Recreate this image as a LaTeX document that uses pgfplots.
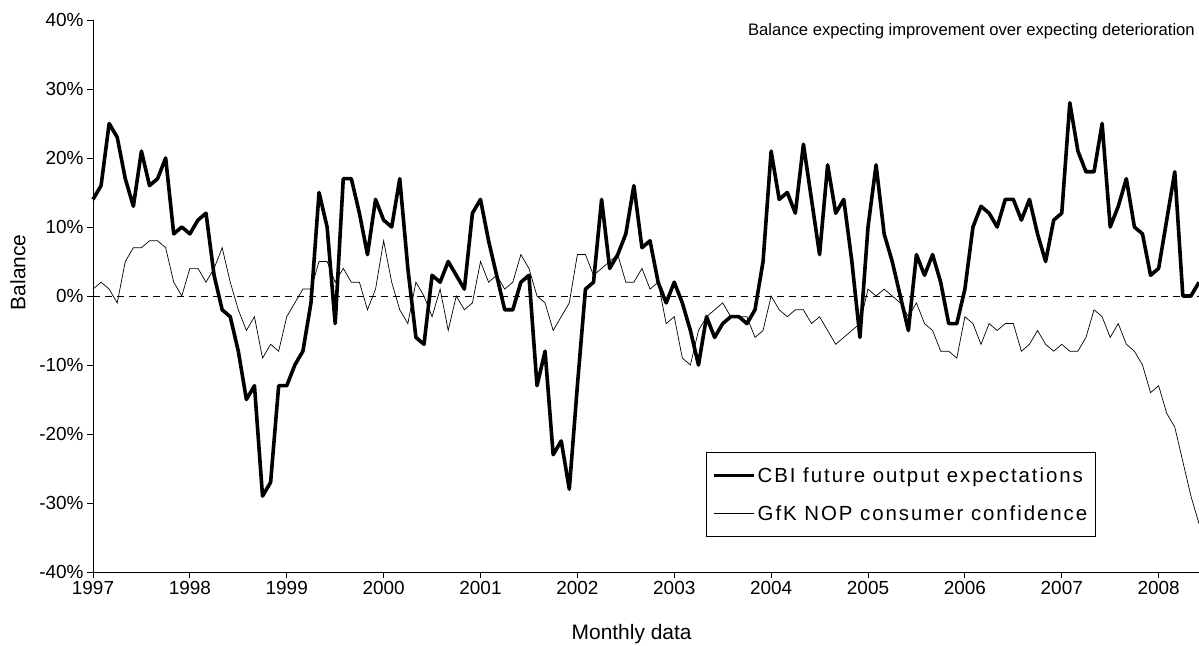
\documentclass[border=0pt]{standalone}
\usepackage{pgfplots}
\pgfplotsset{compat=1.18}
\usepackage{pgfplotstable}
\usepackage{fontspec}
\setmainfont{Liberation Sans}
\newfontfamily\legfont[LetterSpace=9.5]{Liberation Sans}
\pgfplotstableread{
m cbi gfk
0 14 1
1 16 2
2 25 1
3 23 -1
4 17 5
5 13 7
6 21 7
7 16 8
8 17 8
9 20 7
10 9 2
11 10 0
12 9 4
13 11 4
14 12 2
15 3 4
16 -2 7
17 -3 2
18 -8 -2
19 -15 -5
20 -13 -3
21 -29 -9
22 -27 -7
23 -13 -8
24 -13 -3
25 -10 -1
26 -8 1
27 -1 1
28 15 5
29 10 5
30 -4 2
31 17 4
32 17 2
33 12 2
34 6 -2
35 14 1
36 11 8
37 10 2
38 17 -2
39 4 -4
40 -6 2
41 -7 0
42 3 -3
43 2 1
44 5 -5
45 3 0
46 1 -2
47 12 -1
48 14 5
49 8 2
50 3 3
51 -2 1
52 -2 2
53 2 6
54 3 4
55 -13 0
56 -8 -1
57 -23 -5
58 -21 -3
59 -28 -1
60 -13 6
61 1 6
62 2 3
63 14 4
64 4 5
65 6 6
66 9 2
67 16 2
68 7 4
69 8 1
70 2 2
71 -1 -4
72 2 -3
73 -1 -9
74 -5 -10
75 -10 -5
76 -3 -3
77 -6 -2
78 -4 -1
79 -3 -3
80 -3 -3
81 -4 -3
82 -2 -6
83 5 -5
84 21 0
85 14 -2
86 15 -3
87 12 -2
88 22 -2
89 14 -4
90 6 -3
91 19 -5
92 12 -7
93 14 -6
94 5 -5
95 -6 -4
96 10 1
97 19 0
98 9 1
99 5 0
100 0 -1
101 -5 -3
102 6 -1
103 3 -4
104 6 -5
105 2 -8
106 -4 -8
107 -4 -9
108 1 -3
109 10 -4
110 13 -7
111 12 -4
112 10 -5
113 14 -4
114 14 -4
115 11 -8
116 14 -7
117 9 -5
118 5 -7
119 11 -8
120 12 -7
121 28 -8
122 21 -8
123 18 -6
124 18 -2
125 25 -3
126 10 -6
127 13 -4
128 17 -7
129 10 -8
130 9 -10
131 3 -14
132 4 -13
133 11 -17
134 18 -19
135 0 -24
136 0 -29
137 2 -33
}\datatable
\begin{document}
\begin{tikzpicture}
\path[use as bounding box] (0,0) rectangle (1199bp,646bp);
\begin{axis}[
  at={(93bp,74bp)}, anchor=south west,
  scale only axis, width=1106bp, height=552bp,
  xmin=0, xmax=137, ymin=-40, ymax=40,
  axis x line*=bottom, axis y line*=left,
  axis line style={line width=0.8bp},
  tick align=outside, major tick length=6bp,
  tick style={line width=0.8bp, black},
  xtick={0,12,...,132},
  xticklabels={1997,1998,1999,2000,2001,2002,2003,2004,2005,2006,2007,2008},
  ytick={-40,-30,...,40},
  yticklabels={-40\%,-30\%,-20\%,-10\%,0\%,10\%,20\%,30\%,40\%},
  ticklabel style={font=\fontsize{19}{22}\selectfont},
  xlabel={Monthly data}, ylabel={Balance},
  label style={font=\fontsize{21}{24}\selectfont},
  xlabel style={at={(axis description cs:0.487,0)}, anchor=center, yshift=-62bp},
  ylabel style={at={(axis description cs:-0.068,0.543)}, anchor=center},
  clip=false,
  legend style={at={(0.554,0.063)}, anchor=south west, draw=black, line width=0.8bp,
    font=\legfont\fontsize{20.5}{24}\selectfont, row sep=18bp, inner xsep=6bp, inner ysep=13bp},
  legend cell align=left,
  legend image code/.code={\draw[#1] (0bp,0bp) -- (40bp,0bp);},
]
\addplot[black, dash pattern=on 7bp off 5bp, line width=0.8bp, forget plot] coordinates {(0,0) (137,0)};
\addplot[black, line width=3.6bp, line join=round] table[x=m, y=cbi] {\datatable};
\addlegendentry{CBI future output expectations}
\addplot[black, line width=0.7bp] table[x=m, y=gfk] {\datatable};
\addlegendentry{GfK NOP consumer confidence}
\node[anchor=north east, font=\fontsize{16.7}{19}\selectfont, inner sep=0pt] at ([xshift=-4bp, yshift=-3bp]rel axis cs:1,1) {Balance expecting improvement over expecting deterioration};
\end{axis}
\end{tikzpicture}
\end{document}
